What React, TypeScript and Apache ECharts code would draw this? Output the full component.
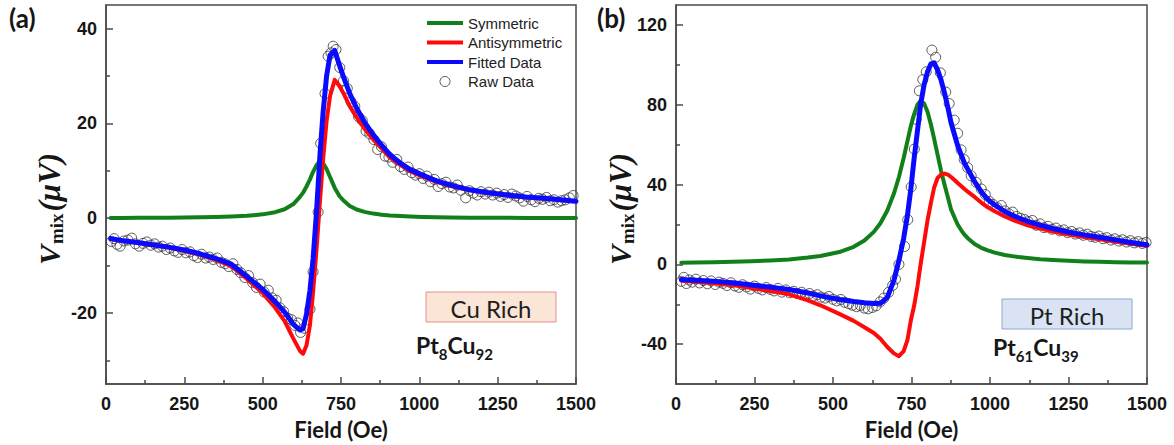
import React, { useEffect, useRef } from 'react';
import * as echarts from 'echarts';

// ---------- Panel (a): Pt8Cu92 ----------
const fieldA = [15, 50, 100, 150, 200, 250, 300, 350, 400, 450, 500, 540, 570, 598, 619, 629, 640, 651, 661, 672, 683, 693, 704, 715, 730, 745, 757, 778, 800, 825, 853, 880, 906, 940, 970, 1010, 1055, 1100, 1161, 1220, 1280, 1340, 1400, 1450, 1500];
const symA = [0.07, 0.07, 0.09, 0.1, 0.13, 0.16, 0.2, 0.26, 0.36, 0.52, 0.82, 1.28, 1.9, 3.0, 4.5, 5.4, 6.7, 8.2, 9.8, 11.2, 12.0, 11.6, 10.4, 8.7, 6.4, 4.7, 3.8, 2.6, 1.85, 1.35, 0.98, 0.74, 0.59, 0.45, 0.36, 0.28, 0.22, 0.17, 0.13, 0.1, 0.08, 0.07, 0.06, 0.05, 0.05];
const antiA = [-4.4, -4.8, -5.2, -5.7, -6.2, -6.9, -7.7, -8.8, -10.1, -12.8, -15.8, -18.9, -21.7, -25.4, -28.0, -28.6, -26.8, -22.5, -15.5, -6.5, 3.7, 12.5, 20.5, 25.8, 29.2, 27.9, 26.5, 23.6, 21.3, 18.9, 16.6, 14.7, 12.8, 11.2, 9.95, 8.8, 7.7, 6.8, 5.9, 5.3, 4.8, 4.4, 4.1, 3.85, 3.55];
const fitA = [-4.3, -4.7, -5.1, -5.6, -6.1, -6.7, -7.5, -8.5, -9.7, -12.3, -15.0, -17.6, -19.8, -22.4, -23.6, -23.3, -20.2, -15.2, -8.5, 1.5, 13.5, 22.5, 30.0, 34.4, 35.4, 32.3, 30.0, 26.3, 23.2, 20.3, 17.6, 15.4, 13.4, 11.6, 10.3, 9.1, 7.9, 7.0, 6.0, 5.4, 4.9, 4.5, 4.2, 3.9, 3.6];
const rawA = [
  [17, -4.9], [26, -4.3], [35, -5.5], [45, -5.9], [57, -4.8], [70, -4.6], [82, -4.2], [94, -5.4], [106, -5.9], [118, -5.3],
  [130, -5.0], [143, -5.7], [155, -5.4], [168, -6.1], [180, -5.9], [193, -6.6], [205, -6.3], [218, -6.9], [230, -7.2], [243, -6.6],
  [255, -7.3], [268, -7.1], [280, -7.9], [292, -8.3], [305, -7.6], [318, -8.4], [330, -8.2], [342, -8.7], [355, -8.4], [368, -9.3],
  [380, -9.6], [392, -10.2], [405, -9.6], [418, -10.8], [430, -11.5], [443, -12.5], [455, -12.1], [468, -13.6], [480, -14.6], [492, -13.9],
  [505, -15.6], [518, -15.2], [530, -16.8], [543, -17.3], [555, -18.9], [567, -19.7], [580, -21.1], [592, -21.4], [603, -22.6], [612, -22.1],
  [621, -24.1], [632, -23.2], [651, -19.2], [661, -11.3], [677, 1.3], [685, 15.8], [699, 26.3], [709, 34.2], [718, 34.9], [725, 36.3],
  [734, 35.6], [746, 31.8], [758, 29.0], [770, 27.4], [782, 24.6], [794, 23.6], [806, 21.4], [818, 20.6], [830, 18.4], [842, 17.8],
  [855, 16.6], [867, 14.5], [879, 15.1], [891, 13.1], [903, 12.9], [915, 11.8], [928, 12.4], [940, 10.9], [952, 10.3], [964, 10.8],
  [976, 9.6], [988, 9.1], [1000, 9.4], [1012, 8.4], [1024, 8.9], [1036, 7.7], [1048, 8.2], [1060, 6.7], [1072, 7.3], [1085, 7.6],
  [1097, 6.6], [1109, 6.4], [1121, 7.0], [1133, 5.9], [1148, 4.3], [1160, 5.8], [1172, 5.3], [1185, 4.9], [1197, 5.6], [1210, 5.1],
  [1222, 5.5], [1234, 4.9], [1247, 5.3], [1259, 4.6], [1271, 5.0], [1283, 4.4], [1295, 5.1], [1308, 4.7], [1320, 4.3], [1332, 3.6],
  [1344, 4.6], [1357, 3.9], [1369, 3.5], [1381, 4.2], [1393, 4.0], [1406, 4.4], [1418, 3.7], [1430, 3.9], [1442, 3.4], [1454, 3.7],
  [1466, 3.9], [1479, 4.3], [1491, 4.8],
];
const yMajorA = [-20, 0, 20, 40];
const yMinorA = [-30, -10, 10, 30];

// ---------- Panel (b): Pt61Cu39 ----------
const fieldB = [17, 60, 120, 180, 240, 300, 360, 420, 460, 520, 566, 600, 630, 651, 673, 694, 710, 725, 737, 748, 758, 769, 779, 790, 801, 812, 822, 833, 844, 855, 866, 876, 887, 897, 908, 918, 930, 951, 972, 993, 1015, 1047, 1080, 1120, 1160, 1200, 1250, 1300, 1350, 1400, 1450, 1500];
const symB = [0.8, 0.9, 1.05, 1.26, 1.55, 1.95, 2.5, 3.4, 4.2, 6.2, 8.8, 12.0, 16.3, 20.6, 27.0, 35.5, 43.8, 53.3, 61.7, 69.4, 75.0, 80.0, 82.0, 80.6, 76.5, 70.0, 63.0, 55.0, 47.0, 40.0, 33.5, 27.5, 23.5, 20.0, 17.2, 15.0, 13.0, 10.2, 8.3, 7.0, 5.9, 4.7, 3.9, 3.2, 2.6, 2.2, 1.8, 1.5, 1.3, 1.1, 1.0, 0.9];
const antiB = [-8.2, -8.7, -9.5, -10.4, -11.9, -13.3, -15.0, -18.0, -20.5, -24.8, -28.3, -31.5, -34.4, -37.3, -41.4, -44.6, -46.0, -43.5, -38.0, -28.0, -21.0, -11.0, 0.0, 11.0, 22.0, 31.0, 38.5, 43.3, 45.0, 45.5, 45.0, 43.8, 42.3, 40.8, 39.3, 37.9, 36.3, 33.8, 31.0, 28.6, 26.6, 24.0, 21.8, 19.6, 17.9, 16.5, 15.0, 13.7, 12.6, 11.5, 10.3, 9.3];
const fitB = [-7.6, -7.9, -8.5, -9.2, -10.3, -11.4, -12.6, -14.3, -15.8, -17.6, -18.6, -19.2, -19.6, -19.5, -16.5, -8.0, 2.0, 13.0, 24.5, 38.0, 52.6, 67.0, 80.0, 90.0, 96.5, 100.5, 101.0, 97.5, 92.5, 86.0, 78.5, 71.0, 65.0, 59.5, 55.0, 51.0, 47.5, 41.5, 36.5, 32.5, 29.8, 26.5, 24.0, 21.6, 19.7, 18.0, 16.2, 14.8, 13.6, 12.3, 11.0, 9.8];
const rawB = [
  [17, -8.5], [25, -6.5], [33, -9.6], [42, -7.8], [52, -8.9], [63, -7.4], [75, -9.3], [87, -8.1], [100, -9.7], [112, -8.3],
  [125, -10.1], [137, -8.9], [150, -9.5], [162, -10.6], [175, -9.2], [187, -10.8], [200, -11.5], [212, -10.2], [225, -11.3], [237, -12.4],
  [250, -10.9], [262, -12.0], [275, -12.8], [287, -11.6], [300, -12.5], [312, -13.3], [325, -12.0], [337, -13.9], [350, -12.8], [362, -14.2],
  [375, -13.5], [387, -14.6], [400, -14.0], [412, -15.3], [425, -14.6], [437, -15.9], [450, -15.2], [462, -16.4], [475, -16.9], [487, -16.1],
  [500, -17.5], [512, -18.3], [525, -17.6], [537, -19.0], [550, -19.7], [562, -20.5], [575, -21.2], [587, -20.6], [600, -21.9], [612, -22.3],
  [625, -21.6], [637, -20.8], [650, -18.8], [662, -16.9], [677, -14.0], [690, -10.5], [699, -7.4], [710, 0.0], [728, 9.0], [738, 22.4],
  [749, 38.8], [759, 57.8], [765, 72.7], [775, 87.0], [786, 92.6], [797, 96.5], [815, 107.4], [827, 103.8], [842, 96.0], [859, 86.4],
  [870, 80.6], [886, 72.3], [897, 65.7], [908, 57.4], [918, 52.5], [929, 48.5], [940, 44.4], [956, 41.1], [972, 37.8], [985, 35.0],
  [998, 31.5], [1010, 30.0], [1023, 28.4], [1036, 29.5], [1048, 26.8], [1060, 25.4], [1072, 26.2], [1085, 24.0], [1097, 23.1], [1110, 22.5],
  [1122, 21.4], [1135, 22.0], [1147, 19.6], [1160, 20.3], [1172, 18.4], [1185, 19.1], [1197, 17.6], [1210, 18.2], [1222, 16.8], [1235, 17.3],
  [1247, 15.9], [1260, 16.5], [1272, 15.2], [1285, 15.8], [1297, 14.6], [1310, 15.1], [1322, 14.0], [1335, 13.6], [1347, 14.2], [1360, 12.9],
  [1372, 13.4], [1385, 12.2], [1397, 12.8], [1410, 11.7], [1422, 12.3], [1435, 11.2], [1447, 11.9], [1460, 10.8], [1472, 11.4], [1485, 10.5],
  [1497, 11.0],
];
const yMajorB = [-40, 0, 40, 80, 120];
const yMinorB = [-20, 20, 60, 100];

const fieldTicks = { min: 0, max: 1500, interval: 250 };
const seriesNames = ['Symmetric', 'Antisymmetric', 'Fitted Data', 'Raw Data'];

const GREEN = '#12801a';
const RED = '#ff0a0a';
const BLUE = '#0a0aff';
const FRAME = '#4a4a4a';
const INK = '#161616';

// flat bar used as the legend key for the fitted curves
const LEGEND_BAR = 'path://M0,0H36V4H0Z';

const zip = (xs: number[], ys: number[]) => xs.map((x, i) => [x, ys[i]]);

const frameLine = { color: FRAME, width: 1.5 };
const tickFont = { fontFamily: 'Liberation Sans', fontWeight: 'bold' as const, fontSize: 18, color: INK };

function fieldAxis(gridIndex: number) {
  return {
    type: 'value',
    gridIndex,
    ...fieldTicks,
    axisLine: { show: true, onZero: false, lineStyle: frameLine },
    axisTick: { show: true, inside: true, length: 7, lineStyle: frameLine },
    minorTick: { show: true, splitNumber: 2, length: 4, lineStyle: frameLine },
    splitLine: { show: false },
    minorSplitLine: { show: false },
    axisLabel: { ...tickFont, margin: 11, formatter: (v: number) => String(v) },
    name: 'Field (Oe)',
    nameLocation: 'middle',
    nameGap: 32,
    nameTextStyle: { fontFamily: 'Lato', fontWeight: 'bold', fontSize: 22, color: INK },
  };
}

function voltAxes(gridIndex: number, min: number, max: number, major: number[], minor: number[]) {
  return [
    {
      type: 'value',
      gridIndex,
      min,
      max,
      position: 'left',
      axisLine: { show: true, onZero: false, lineStyle: frameLine },
      axisTick: { show: true, inside: true, length: 7, customValues: major, lineStyle: frameLine },
      axisLabel: { ...tickFont, margin: 9, customValues: major, formatter: (v: number) => String(v) },
      splitLine: { show: false },
    },
    {
      type: 'value',
      gridIndex,
      min,
      max,
      position: 'left',
      axisLine: { show: false },
      axisTick: { show: true, inside: true, length: 4, customValues: minor, lineStyle: frameLine },
      axisLabel: { show: false },
      splitLine: { show: false },
    },
  ];
}

function panelSeries(
  axis: number,
  yAxis: number,
  field: number[],
  sym: number[],
  anti: number[],
  fit: number[],
  raw: number[][],
) {
  const line = (name: string, color: string, width: number, values: number[], z: number) => ({
    type: 'line',
    name,
    xAxisIndex: axis,
    yAxisIndex: yAxis,
    data: zip(field, values),
    symbol: 'none',
    color,
    itemStyle: { color },
    lineStyle: { color, width, cap: 'round', join: 'round' },
    z,
  });
  return [
    {
      type: 'scatter',
      name: seriesNames[3],
      xAxisIndex: axis,
      yAxisIndex: yAxis,
      data: raw,
      symbol: 'circle',
      symbolSize: 10,
      itemStyle: { color: 'rgba(0,0,0,0)', borderColor: '#333333', borderWidth: 1 },
      z: 2,
    },
    line(seriesNames[0], GREEN, 4, sym, 3),
    line(seriesNames[1], RED, 4, anti, 4),
    line(seriesNames[2], BLUE, 5, fit, 5),
  ];
}

function voltTitle(x: number, y: number) {
  return {
    type: 'text',
    x,
    y,
    rotation: Math.PI / 2,
    style: {
      text: '{v|V}{s|mix}{p|(μV)}',
      align: 'center',
      verticalAlign: 'middle',
      rich: {
        v: { fontFamily: 'Liberation Serif', fontStyle: 'italic', fontWeight: 'bold', fontSize: 30, fill: INK },
        s: { fontFamily: 'Liberation Serif', fontWeight: 'bold', fontSize: 19, fill: INK, padding: [14, 0, 0, 1] },
        p: { fontFamily: 'Liberation Serif', fontStyle: 'italic', fontWeight: 'bold', fontSize: 31, fill: INK, padding: [0, 0, 0, 2] },
      },
    },
  };
}

function formula(x: number, y: number, a: string, b: string) {
  return {
    type: 'text',
    x,
    y,
    style: {
      text: `{m|Pt}{s|${a}}{m|Cu}{s|${b}}`,
      align: 'left',
      verticalAlign: 'middle',
      rich: {
        m: { fontFamily: 'Lato', fontWeight: 'bold', fontSize: 23, fill: INK },
        s: { fontFamily: 'Lato', fontWeight: 'bold', fontSize: 15, fill: INK, padding: [17, 0, 0, 0] },
      },
    },
  };
}

function tagBox(x: number, y: number, w: number, h: number, fill: string, stroke: string, label: string) {
  return [
    { type: 'rect', shape: { x, y, width: w, height: h }, style: { fill, stroke, lineWidth: 1 }, z: 10 },
    {
      type: 'text',
      x: x + w / 2,
      y: y + h / 2 + 1,
      z: 11,
      style: { text: label, align: 'center', verticalAlign: 'middle', font: '24px Lato', fill: '#1e1e1e' },
    },
  ];
}

export default function App() {
  const ref = useRef<HTMLDivElement>(null);

  useEffect(() => {
    if (!ref.current) return;
    const chart = echarts.init(ref.current, null, { renderer: 'svg' });
    const [yA, yAminor] = voltAxes(0, -35, 45, yMajorA, yMinorA);
    const [yB, yBminor] = voltAxes(1, -60, 130, yMajorB, yMinorB);

    chart.setOption({
      animation: false,
      backgroundColor: '#ffffff',
      grid: [
        { left: 106, top: 5, width: 470, height: 382, show: true, borderColor: FRAME, borderWidth: 1.5, backgroundColor: 'transparent' },
        { left: 676, top: 5, width: 471, height: 382, show: true, borderColor: FRAME, borderWidth: 1.5, backgroundColor: 'transparent' },
      ],
      xAxis: [fieldAxis(0), fieldAxis(1)],
      yAxis: [yA, yAminor, yB, yBminor],
      legend: {
        left: 427,
        top: 15,
        orient: 'vertical',
        itemWidth: 36,
        itemHeight: 10,
        itemGap: 3.5,
        selectedMode: false,
        padding: 0,
        textStyle: { fontFamily: 'Liberation Sans', fontSize: 15, color: '#222', lineHeight: 16 },
        data: [
          { name: seriesNames[0], icon: LEGEND_BAR, itemStyle: { color: GREEN, borderWidth: 0 } },
          { name: seriesNames[1], icon: LEGEND_BAR, itemStyle: { color: RED, borderWidth: 0 } },
          { name: seriesNames[2], icon: LEGEND_BAR, itemStyle: { color: BLUE, borderWidth: 0 } },
          {
            name: seriesNames[3],
            icon: 'circle',
            itemStyle: { color: 'rgba(0,0,0,0)', borderColor: '#333333', borderWidth: 1 },
          },
        ],
      },
      series: [
        ...panelSeries(0, 0, fieldA, symA, antiA, fitA, rawA),
        ...panelSeries(1, 2, fieldB, symB, antiB, fitB, rawB),
      ],
      graphic: [
        { type: 'text', x: 9, y: 5, style: { text: '(a)', font: 'bold 26px Lato', fill: INK, align: 'left', verticalAlign: 'top' } },
        { type: 'text', x: 597, y: 5, style: { text: '(b)', font: 'bold 26px Lato', fill: INK, align: 'left', verticalAlign: 'top' } },
        voltTitle(49, 209),
        voltTitle(620, 209),
        ...tagBox(426, 292, 130, 30, '#fbe5d6', '#e58f8c', 'Cu Rich'),
        ...tagBox(1002, 299, 130, 30, '#dae3f3', '#8ea6cf', 'Pt Rich'),
        formula(416, 345, '8', '92'),
        formula(993, 347, '61', '39'),
      ],
    });
    return () => chart.dispose();
  }, []);

  return (
    <div
      ref={ref}
      style={{ position: 'fixed', left: 0, top: 0, width: 1174, height: 445, background: '#fff' }}
    />
  );
}
